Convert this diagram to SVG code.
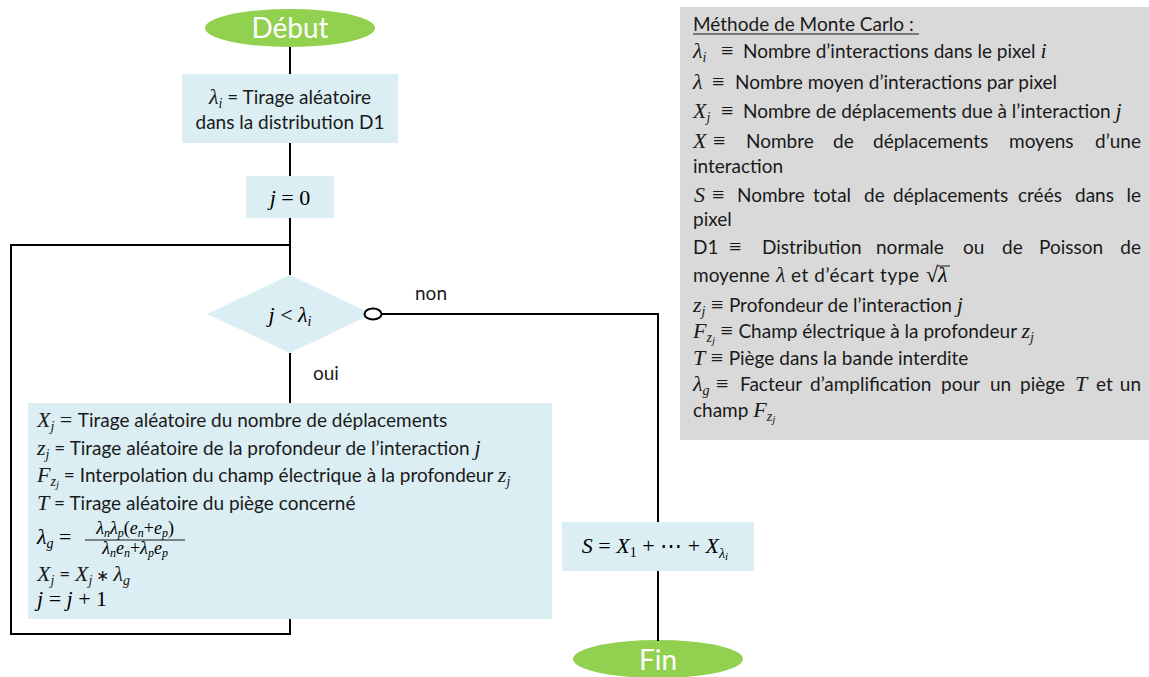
<svg xmlns="http://www.w3.org/2000/svg" width="1149" height="677" viewBox="0 0 1149 677">
<style>
.t{font-family:Lato,"Liberation Sans",sans-serif;font-size:19px;fill:#1a1a1a}
.m{font-family:"Liberation Serif",serif;font-style:italic;font-size:22px}
.r{font-family:"Liberation Serif",serif;font-style:normal;font-size:22px}
.s{font-size:14px}
.ss{font-size:11px}
.f{font-size:18px}
.fs{font-size:12px}
.box{fill:#DAEEF3}
.term{fill:#92D050}
.tt{font-family:Lato,"Liberation Sans",sans-serif;font-size:28px;fill:#ffffff}
.ln{stroke:#000;stroke-width:2;fill:none}
</style>
<rect x="0" y="0" width="1149" height="677" fill="#ffffff"/>

<g id="debut">
<ellipse class="term" cx="290" cy="28" rx="85" ry="19"/>
<text class="tt" x="290" y="38" text-anchor="middle">Début</text>
</g>

<g id="tirage-lambda">
<rect class="box" x="182" y="74" width="216" height="69"/>
<text class="t" x="290" y="104" text-anchor="middle"><tspan class="m">λ</tspan><tspan class="m s" dy="4">i</tspan><tspan dy="-4"> = Tirage aléatoire</tspan></text>
<text class="t" x="290" y="129" text-anchor="middle">dans la distribution D1</text>
</g>

<g id="init-j">
<rect class="box" x="246" y="176" width="88" height="42"/>
<text class="m" x="290" y="205" text-anchor="middle">j <tspan class="r">= 0</tspan></text>
</g>

<g id="test">
<polygon class="box" points="290,275 372,314 290,353 207,314"/>
<text class="m" x="290" y="322" text-anchor="middle">j <tspan class="r">&lt;</tspan> λ<tspan class="s" dy="4">i</tspan></text>
</g>

<g id="boucle">
<rect class="box" x="28" y="403" width="524" height="216"/>
<text class="t" x="37" y="427"><tspan class="m">X</tspan><tspan class="m s" dy="4">j</tspan><tspan class="r" dy="-4"> = </tspan>Tirage aléatoire du nombre de déplacements</text>
<text class="t" x="37" y="455"><tspan class="m">z</tspan><tspan class="m s" dy="4">j</tspan><tspan dy="-4"> = Tirage aléatoire de la profondeur de l’interaction </tspan><tspan class="m">j</tspan></text>
<text class="t" x="37" y="482"><tspan class="m">F</tspan><tspan class="m s" dy="4">z</tspan><tspan class="m ss" dy="2">j</tspan><tspan dy="-6"> = Interpolation du champ électrique à la profondeur </tspan><tspan class="m">z</tspan><tspan class="m s" dy="4">j</tspan></text>
<text class="t" x="37" y="510"><tspan class="m">T</tspan> = Tirage aléatoire du piège concerné</text>
<text class="m" x="37" y="544">λ<tspan class="s" dy="4">g</tspan><tspan class="r" dy="-4"> =</tspan></text>
<text class="m f" x="135" y="534" text-anchor="middle">λ<tspan class="fs" dy="3">n</tspan><tspan dy="-3">λ</tspan><tspan class="fs" dy="3">p</tspan><tspan class="r f" dy="-3">(</tspan>e<tspan class="fs" dy="3">n</tspan><tspan class="r f" dy="-3">+</tspan>e<tspan class="fs" dy="3">p</tspan><tspan class="r f" dy="-3">)</tspan></text>
<line x1="85" y1="540" x2="185" y2="540" stroke="#1a1a1a" stroke-width="1"/>
<text class="m f" x="135" y="554" text-anchor="middle">λ<tspan class="fs" dy="3">n</tspan><tspan dy="-3">e</tspan><tspan class="fs" dy="3">n</tspan><tspan class="r f" dy="-3">+</tspan>λ<tspan class="fs" dy="3">p</tspan><tspan dy="-3">e</tspan><tspan class="fs" dy="3">p</tspan></text>
<text class="t" x="37" y="581"><tspan class="m">X</tspan><tspan class="m s" dy="4">j</tspan><tspan dy="-4"> = </tspan><tspan class="m">X</tspan><tspan class="m s" dy="4">j</tspan><tspan class="r" dy="-4" style="font-size:16px"> ∗ </tspan><tspan class="m">λ</tspan><tspan class="m s" dy="4">g</tspan></text>
<text class="m" x="37" y="606">j <tspan class="r">=</tspan> j <tspan class="r">+ 1</tspan></text>
</g>

<g id="somme">
<rect class="box" x="562" y="522" width="192" height="49"/>
<text class="m" x="655" y="553" text-anchor="middle">S <tspan class="r">=</tspan> X<tspan class="r s" dy="4">1</tspan><tspan class="r" dy="-4"> + ⋯ + </tspan>X<tspan class="s" dy="5">λ</tspan><tspan class="ss" dy="2">i</tspan></text>
</g>

<g id="fin">
<ellipse class="term" cx="658" cy="659" rx="85" ry="19"/>
<text class="tt" x="658" y="670" text-anchor="middle">Fin</text>
</g>

<g id="legende">
<rect x="680" y="7" width="469" height="433" fill="#D9D9D9"/>
<text class="t" x="693" y="31">Méthode de Monte Carlo :</text>
<line x1="693" y1="34" x2="919" y2="34" stroke="#1a1a1a" stroke-width="1.2"/>
<text class="t" y="58"><tspan class="m" x="693">λ</tspan><tspan class="m s" dy="4">i</tspan><tspan class="r" x="721" dy="-4">≡</tspan><tspan x="743">Nombre d’interactions dans le pixel </tspan><tspan class="m">i</tspan></text>
<text class="t" y="89"><tspan class="m" x="693">λ</tspan><tspan class="r" x="712">≡</tspan><tspan x="735">Nombre moyen d’interactions par pixel</tspan></text>
<text class="t" y="118"><tspan class="m" x="693">X</tspan><tspan class="m s" dy="4">j</tspan><tspan class="r" x="721" dy="-4">≡</tspan><tspan x="743">Nombre de déplacements due à l’interaction </tspan><tspan class="m">j</tspan></text>
<text class="t" y="148"><tspan class="m" x="693">X</tspan><tspan class="r" x="713">≡</tspan><tspan x="746">Nombre</tspan><tspan x="833">de</tspan><tspan x="873">déplacements</tspan><tspan x="1009">moyens</tspan><tspan x="1141" text-anchor="end">d’une</tspan></text>
<text class="t" x="693" y="173">interaction</text>
<text class="t" y="202"><tspan class="m" x="694">S</tspan><tspan class="r" x="712">≡</tspan><tspan x="737">Nombre</tspan><tspan x="813">total</tspan><tspan x="864">de</tspan><tspan x="893">déplacements</tspan><tspan x="1018">créés</tspan><tspan x="1075">dans</tspan><tspan x="1141" text-anchor="end">le</tspan></text>
<text class="t" x="693" y="226">pixel</text>
<text class="t" y="254"><tspan x="693">D1</tspan><tspan class="r" x="729">≡</tspan><tspan x="762">Distribution</tspan><tspan x="876">normale</tspan><tspan x="963">ou</tspan><tspan x="1002">de</tspan><tspan x="1039">Poisson</tspan><tspan x="1141" text-anchor="end">de</tspan></text>
<text class="t" y="282"><tspan x="693">moyenne</tspan><tspan class="m" x="776">λ</tspan></text>
<text class="t" x="791" y="282" textLength="128" lengthAdjust="spacing">et d’écart type</text>
<text class="r" x="926" y="282">√</text>
<text class="m" x="938" y="282">λ</text>
<line x1="937" y1="266" x2="950" y2="266" stroke="#1a1a1a" stroke-width="1"/>
<text class="t" x="693" y="312"><tspan class="m">z</tspan><tspan class="m s" dy="4">j</tspan><tspan class="r" dy="-4"> ≡ </tspan>Profondeur de l’interaction <tspan class="m">j</tspan></text>
<text class="t" x="693" y="338"><tspan class="m">F</tspan><tspan class="m s" dy="4">z</tspan><tspan class="m ss" dy="2">j</tspan><tspan class="r" dy="-6"> ≡ </tspan> Champ électrique à la profondeur <tspan class="m">z</tspan><tspan class="m s" dy="4">j</tspan></text>
<text class="t" x="693" y="365"><tspan class="m">T</tspan><tspan class="r"> ≡ </tspan>Piège dans la bande interdite</text>
<text class="t" y="391"><tspan class="m" x="693">λ</tspan><tspan class="m s" dy="4">g</tspan><tspan class="r" x="716" dy="-4">≡</tspan><tspan x="740">Facteur</tspan><tspan x="810">d’amplification</tspan><tspan x="941">pour</tspan><tspan x="990">un</tspan><tspan x="1020">piège</tspan><tspan class="m" x="1075">T</tspan><tspan x="1096">et</tspan><tspan x="1141" text-anchor="end">un</tspan></text>
<text class="t" x="693" y="417">champ <tspan class="m">F</tspan><tspan class="m s" dy="4">z</tspan><tspan class="m ss" dy="2">j</tspan></text>
</g>

<g id="connectors">
<line class="ln" x1="290" y1="47" x2="290" y2="74"/>
<line class="ln" x1="290" y1="143" x2="290" y2="176"/>
<line class="ln" x1="290" y1="218" x2="290" y2="275"/>
<polyline class="ln" points="290,619 290,634 11,634 11,245 290,245"/>
<line class="ln" x1="290" y1="353" x2="290" y2="403"/>
<ellipse cx="373" cy="314" rx="8.5" ry="5.5" fill="#ffffff" stroke="#000" stroke-width="2"/>
<polyline class="ln" points="381.5,314 658,314 658,522"/>
<line class="ln" x1="658" y1="571" x2="658" y2="641"/>
<text class="t" x="415" y="300">non</text>
<text class="t" x="313" y="380">oui</text>
</g>
</svg>
